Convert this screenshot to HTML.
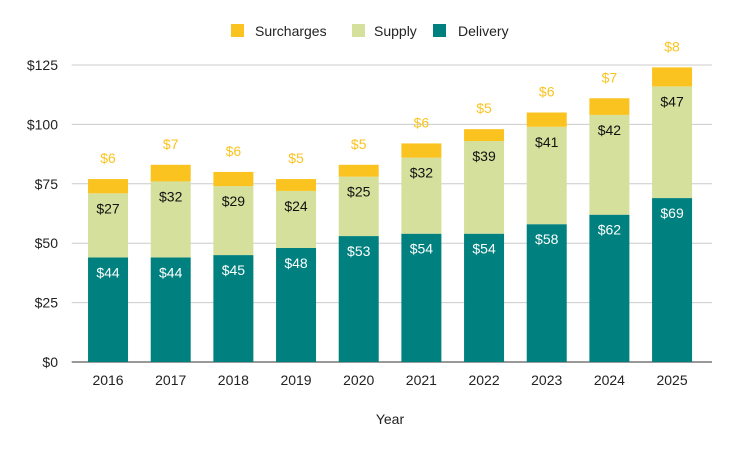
<!DOCTYPE html>
<html><head><meta charset="utf-8"><style>
body{margin:0;background:#fff;font-family:"Liberation Sans",Arial,sans-serif;}
svg text{font-family:"Liberation Sans",Arial,sans-serif;}
</style></head><body>
<svg id="chart" width="741" height="451" xmlns="http://www.w3.org/2000/svg">
<rect width="741" height="451" fill="#fff"/>
<g id="legend">
  <g><rect x="231" y="24" width="13" height="13" fill="#fbc320"/><text x="255" y="36" font-size="14" fill="#222">Surcharges</text></g>
  <g><rect x="352" y="24" width="13" height="13" fill="#d4e09c"/><text x="374" y="36" font-size="14" fill="#222">Supply</text></g>
  <g><rect x="433" y="24" width="13" height="13" fill="#00807f"/><text x="458" y="36" font-size="14" fill="#222">Delivery</text></g>
</g>
<g id="grid"></g>
<g id="bars"></g>
<g id="labels"></g>
<text x="390" y="424" font-size="14" text-anchor="middle" fill="#222">Year</text>
</svg>
<script>
const years=["2016","2017","2018","2019","2020","2021","2022","2023","2024","2025"];
const delivery=[44,44,45,48,53,54,54,58,62,69];
const supply=[27,32,29,24,25,32,39,41,42,47];
const surcharges=[6,7,6,5,5,6,5,6,7,8];
const yTicks=[0,25,50,75,100,125];
const NS="http://www.w3.org/2000/svg";
const x0=76.7,x1=703.4,gridEnd=712,yBase=362,pxPerUnit=297/125,bw=40;
const step=(x1-x0)/years.length;
const xc=i=>x0+step*(i+0.5);
const y=v=>yBase-v*pxPerUnit;
function mk(tag,attrs,parent,txt){const e=document.createElementNS(NS,tag);for(const k in attrs)e.setAttribute(k,attrs[k]);if(txt!==undefined)e.textContent=txt;document.getElementById(parent).appendChild(e);return e;}
yTicks.forEach(t=>{
  const l=mk("line",{x1:x0-5,x2:gridEnd,y1:y(t),y2:y(t),stroke:t===0?"#333":"#ccc","stroke-width":1},"grid");
  
  
  const tx=mk("text",{x:58,y:y(t)+5,"font-size":14,"text-anchor":"end",fill:"#222"},"grid","$"+t);
  
  
});
years.forEach((yr,i)=>{
  const cx=xc(i),left=cx-bw/2;
  const d=delivery[i],s=supply[i],c=surcharges[i];
  const r1=mk("rect",{x:left,y:y(d),width:bw,height:d*pxPerUnit,fill:"#00807f"},"bars");
  
  
  const r2=mk("rect",{x:left,y:y(d+s),width:bw,height:s*pxPerUnit,fill:"#d4e09c"},"bars");
  
  
  const r3=mk("rect",{x:left,y:y(d+s+c),width:bw,height:c*pxPerUnit,fill:"#fbc320"},"bars");
  
  
  const l1=mk("text",{x:cx,y:y(d)+20,"font-size":14,"text-anchor":"middle",fill:"#fff"},"labels","$"+d);
  
  
  const l2=mk("text",{x:cx,y:y(d+s)+20,"font-size":14,"text-anchor":"middle",fill:"#111"},"labels","$"+s);
  
  
  const l3=mk("text",{x:cx,y:y(d+s+c)-16,"font-size":14,"text-anchor":"middle",fill:"#fbc320"},"labels","$"+c);
  
  
  const xl=mk("text",{x:cx,y:385,"font-size":14,"text-anchor":"middle",fill:"#222"},"labels",yr);
  
  
});
</script>
</body></html>
